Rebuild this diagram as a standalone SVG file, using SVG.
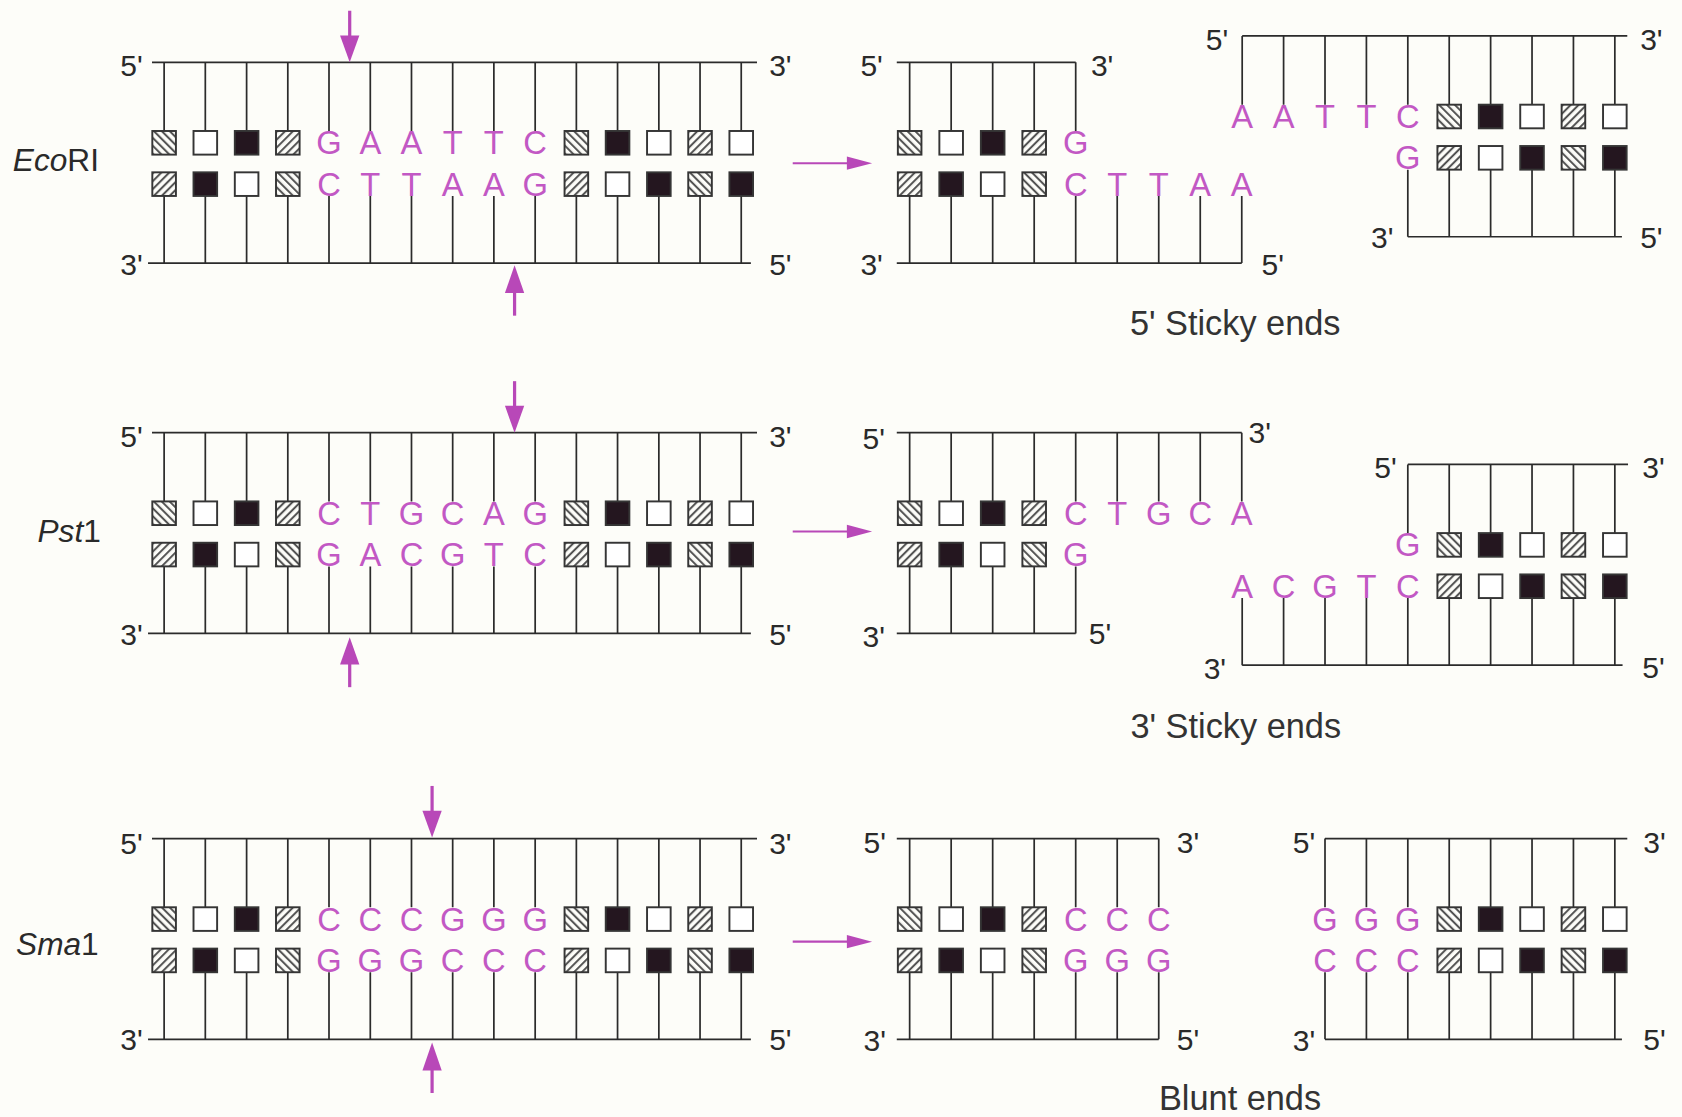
<svg xmlns="http://www.w3.org/2000/svg" width="1682" height="1117" viewBox="0 0 1682 1117">
<style>
.ln{fill:none;stroke:#2b2b2b;stroke-width:1.6}
.bx{stroke:#353535;stroke-width:1.8}
.seq{font-family:"Liberation Sans",Arial,sans-serif;font-size:30.5px;fill:#c258c4;text-anchor:middle}
.lab{font-family:"Liberation Sans",Arial,sans-serif;font-size:28px;fill:#2a2a2a}
.end{text-anchor:end}
.cap{font-family:"Liberation Sans",Arial,sans-serif;font-size:32px;fill:#333;text-anchor:middle}
.enz{font-family:"Liberation Sans",Arial,sans-serif;font-size:29.5px;fill:#2a2a2a}
.it{font-style:italic}
.arr{fill:#b848b8;stroke:none}
.sh{stroke:#b848b8;stroke-width:3}
.shh{stroke:#b848b8;stroke-width:2}
</style>
<defs>
<pattern id="pb" width="5.2" height="5.2" patternUnits="userSpaceOnUse" patternTransform="rotate(-45)"><line x1="1" y1="0" x2="1" y2="5.2" stroke="#4a4a4a" stroke-width="1.8"/></pattern>
<pattern id="pf" width="5.2" height="5.2" patternUnits="userSpaceOnUse" patternTransform="rotate(45)"><line x1="1" y1="0" x2="1" y2="5.2" stroke="#4a4a4a" stroke-width="1.8"/></pattern>
<rect id="wb" class="bx" x="-11" y="-11" width="22" height="22" fill="#fff"/>
<rect id="kb" class="bx" x="-11" y="-11" width="22" height="22" fill="#24161f"/>
<rect id="bs" class="bx" x="-11" y="-11" width="22" height="22" fill="url(#pb)"/>
<rect id="fs" class="bx" x="-11" y="-11" width="22" height="22" fill="url(#pf)"/>
</defs>
<rect width="1682" height="1117" fill="#fdfdf9"/>
<g transform="scale(1.0727,1.0737)">

<!-- ===== Row 1: EcoRI ===== -->
<g id="ecori-full">
<path class="ln" d="M141.7 58H705.7M138 245H700"/>
<path class="ln" d="M153 58V122M191.4 58V122M229.9 58V122M268.3 58V122M306.7 58V122M345.2 58V122M383.6 58V122M422 58V122M460.4 58V122M498.9 58V122M537.3 58V122M575.7 58V122M614.2 58V122M652.6 58V122M691 58V122"/>
<path class="ln" d="M153 182.5V245M191.4 182.5V245M229.9 182.5V245M268.3 182.5V245M306.7 182.5V245M345.2 182.5V245M383.6 182.5V245M422 182.5V245M460.4 182.5V245M498.9 182.5V245M537.3 182.5V245M575.7 182.5V245M614.2 182.5V245M652.6 182.5V245M691 182.5V245"/>
<use href="#bs" x="153" y="133"/><use href="#wb" x="191.4" y="133"/><use href="#kb" x="229.9" y="133"/><use href="#fs" x="268.3" y="133"/>
<use href="#bs" x="537.3" y="133"/><use href="#kb" x="575.7" y="133"/><use href="#wb" x="614.2" y="133"/><use href="#fs" x="652.6" y="133"/><use href="#wb" x="691" y="133"/>
<use href="#fs" x="153" y="171.5"/><use href="#kb" x="191.4" y="171.5"/><use href="#wb" x="229.9" y="171.5"/><use href="#bs" x="268.3" y="171.5"/>
<use href="#fs" x="537.3" y="171.5"/><use href="#wb" x="575.7" y="171.5"/><use href="#kb" x="614.2" y="171.5"/><use href="#bs" x="652.6" y="171.5"/><use href="#kb" x="691" y="171.5"/>
<text class="seq" x="306.7 345.2 383.6 422 460.4 498.9" y="143.7">GAATTC</text>
<text class="seq" x="306.7 345.2 383.6 422 460.4 498.9" y="182.2">CTTAAG</text>
<text class="lab end" x="133" y="71">5'</text><text class="lab" x="717" y="71">3'</text>
<text class="lab end" x="133" y="256">3'</text><text class="lab" x="717" y="256">5'</text>
<text class="enz" x="12" y="159"><tspan class="it">Eco</tspan>RI</text>
</g>

<g id="ecori-left">
<path class="ln" d="M836 58H1002.8M836 245H1157.6"/>
<path class="ln" d="M848 58V122M886.7 58V122M925.4 58V122M964.1 58V122M1002.8 58V122"/>
<path class="ln" d="M848 182.5V245M886.7 182.5V245M925.4 182.5V245M964.1 182.5V245M1002.8 182.5V245M1041.5 182.5V245M1080.2 182.5V245M1118.9 182.5V245M1157.6 182.5V245"/>
<use href="#bs" x="848" y="133"/><use href="#wb" x="886.7" y="133"/><use href="#kb" x="925.4" y="133"/><use href="#fs" x="964.1" y="133"/>
<use href="#fs" x="848" y="171.5"/><use href="#kb" x="886.7" y="171.5"/><use href="#wb" x="925.4" y="171.5"/><use href="#bs" x="964.1" y="171.5"/>
<text class="seq" x="1002.8" y="143.7">G</text>
<text class="seq" x="1002.8 1041.5 1080.2 1118.9 1157.6" y="182.2">CTTAA</text>
<text class="lab end" x="823" y="71">5'</text><text class="lab" x="1017" y="71">3'</text>
<text class="lab end" x="823" y="256">3'</text><text class="lab" x="1176" y="256">5'</text>
</g>

<g id="ecori-right">
<path class="ln" d="M1158 33.5H1517M1312.4 220.5H1512"/>
<path class="ln" d="M1158 33.5V97.5M1196.6 33.5V97.5M1235.2 33.5V97.5M1273.8 33.5V97.5M1312.4 33.5V97.5M1351 33.5V97.5M1389.6 33.5V97.5M1428.2 33.5V97.5M1466.8 33.5V97.5M1505.4 33.5V97.5"/>
<path class="ln" d="M1312.4 158V220.5M1351 158V220.5M1389.6 158V220.5M1428.2 158V220.5M1466.8 158V220.5M1505.4 158V220.5"/>
<use href="#bs" x="1351" y="108.5"/><use href="#kb" x="1389.6" y="108.5"/><use href="#wb" x="1428.2" y="108.5"/><use href="#fs" x="1466.8" y="108.5"/><use href="#wb" x="1505.4" y="108.5"/>
<use href="#fs" x="1351" y="147"/><use href="#wb" x="1389.6" y="147"/><use href="#kb" x="1428.2" y="147"/><use href="#bs" x="1466.8" y="147"/><use href="#kb" x="1505.4" y="147"/>
<text class="seq" x="1158 1196.6 1235.2 1273.8 1312.4" y="119.2">AATTC</text>
<text class="seq" x="1312.4" y="157.7">G</text>
<text class="lab end" x="1145" y="47">5'</text><text class="lab" x="1529" y="47">3'</text>
<text class="lab end" x="1299" y="231">3'</text><text class="lab" x="1529" y="231">5'</text>
</g>
<text id="cap1" class="cap" x="1151.5" y="312">5' Sticky ends</text>

<!-- ===== Row 2: Pst1 ===== -->
<g id="pst-full">
<path class="ln" d="M141.7 403H705.7M138 590H700"/>
<path class="ln" d="M153 403V467M191.4 403V467M229.9 403V467M268.3 403V467M306.7 403V467M345.2 403V467M383.6 403V467M422 403V467M460.4 403V467M498.9 403V467M537.3 403V467M575.7 403V467M614.2 403V467M652.6 403V467M691 403V467"/>
<path class="ln" d="M153 527.5V590M191.4 527.5V590M229.9 527.5V590M268.3 527.5V590M306.7 527.5V590M345.2 527.5V590M383.6 527.5V590M422 527.5V590M460.4 527.5V590M498.9 527.5V590M537.3 527.5V590M575.7 527.5V590M614.2 527.5V590M652.6 527.5V590M691 527.5V590"/>
<use href="#bs" x="153" y="478"/><use href="#wb" x="191.4" y="478"/><use href="#kb" x="229.9" y="478"/><use href="#fs" x="268.3" y="478"/>
<use href="#bs" x="537.3" y="478"/><use href="#kb" x="575.7" y="478"/><use href="#wb" x="614.2" y="478"/><use href="#fs" x="652.6" y="478"/><use href="#wb" x="691" y="478"/>
<use href="#fs" x="153" y="516.5"/><use href="#kb" x="191.4" y="516.5"/><use href="#wb" x="229.9" y="516.5"/><use href="#bs" x="268.3" y="516.5"/>
<use href="#fs" x="537.3" y="516.5"/><use href="#wb" x="575.7" y="516.5"/><use href="#kb" x="614.2" y="516.5"/><use href="#bs" x="652.6" y="516.5"/><use href="#kb" x="691" y="516.5"/>
<text class="seq" x="306.7 345.2 383.6 422 460.4 498.9" y="488.7">CTGCAG</text>
<text class="seq" x="306.7 345.2 383.6 422 460.4 498.9" y="527.2">GACGTC</text>
<text class="lab end" x="133" y="416">5'</text><text class="lab" x="717" y="416">3'</text>
<text class="lab end" x="133" y="601">3'</text><text class="lab" x="717" y="601">5'</text>
<text class="enz" x="35" y="505"><tspan class="it">Pst</tspan>1</text>
</g>

<g id="pst-left">
<path class="ln" d="M836 403H1157.6M836 590H1002.8"/>
<path class="ln" d="M848 403V467M886.7 403V467M925.4 403V467M964.1 403V467M1002.8 403V467M1041.5 403V467M1080.2 403V467M1118.9 403V467M1157.6 403V467"/>
<path class="ln" d="M848 527.5V590M886.7 527.5V590M925.4 527.5V590M964.1 527.5V590M1002.8 527.5V590"/>
<use href="#bs" x="848" y="478"/><use href="#wb" x="886.7" y="478"/><use href="#kb" x="925.4" y="478"/><use href="#fs" x="964.1" y="478"/>
<use href="#fs" x="848" y="516.5"/><use href="#kb" x="886.7" y="516.5"/><use href="#wb" x="925.4" y="516.5"/><use href="#bs" x="964.1" y="516.5"/>
<text class="seq" x="1002.8 1041.5 1080.2 1118.9 1157.6" y="488.7">CTGCA</text>
<text class="seq" x="1002.8" y="527.2">G</text>
<text class="lab end" x="825" y="418">5'</text><text class="lab" x="1164" y="413">3'</text>
<text class="lab end" x="825" y="603">3'</text><text class="lab" x="1015" y="600">5'</text>
</g>

<g id="pst-right">
<path class="ln" d="M1312.4 432.5H1517.7M1158 619.5H1512.6"/>
<path class="ln" d="M1312.4 432.5V496.5M1351 432.5V496.5M1389.6 432.5V496.5M1428.2 432.5V496.5M1466.8 432.5V496.5M1505.4 432.5V496.5"/>
<path class="ln" d="M1158 557V619.5M1196.6 557V619.5M1235.2 557V619.5M1273.8 557V619.5M1312.4 557V619.5M1351 557V619.5M1389.6 557V619.5M1428.2 557V619.5M1466.8 557V619.5M1505.4 557V619.5"/>
<use href="#bs" x="1351" y="507.5"/><use href="#kb" x="1389.6" y="507.5"/><use href="#wb" x="1428.2" y="507.5"/><use href="#fs" x="1466.8" y="507.5"/><use href="#wb" x="1505.4" y="507.5"/>
<use href="#fs" x="1351" y="546"/><use href="#wb" x="1389.6" y="546"/><use href="#kb" x="1428.2" y="546"/><use href="#bs" x="1466.8" y="546"/><use href="#kb" x="1505.4" y="546"/>
<text class="seq" x="1312.4" y="518.2">G</text>
<text class="seq" x="1158 1196.6 1235.2 1273.8 1312.4" y="556.7">ACGTC</text>
<text class="lab end" x="1302" y="445">5'</text><text class="lab" x="1531" y="445">3'</text>
<text class="lab end" x="1143" y="632">3'</text><text class="lab" x="1531" y="631">5'</text>
</g>
<text id="cap2" class="cap" x="1152" y="687">3' Sticky ends</text>

<!-- ===== Row 3: Sma1 ===== -->
<g id="sma-full">
<path class="ln" d="M141.7 781H705.7M138 968H700"/>
<path class="ln" d="M153 781V845M191.4 781V845M229.9 781V845M268.3 781V845M306.7 781V845M345.2 781V845M383.6 781V845M422 781V845M460.4 781V845M498.9 781V845M537.3 781V845M575.7 781V845M614.2 781V845M652.6 781V845M691 781V845"/>
<path class="ln" d="M153 905.5V968M191.4 905.5V968M229.9 905.5V968M268.3 905.5V968M306.7 905.5V968M345.2 905.5V968M383.6 905.5V968M422 905.5V968M460.4 905.5V968M498.9 905.5V968M537.3 905.5V968M575.7 905.5V968M614.2 905.5V968M652.6 905.5V968M691 905.5V968"/>
<use href="#bs" x="153" y="856"/><use href="#wb" x="191.4" y="856"/><use href="#kb" x="229.9" y="856"/><use href="#fs" x="268.3" y="856"/>
<use href="#bs" x="537.3" y="856"/><use href="#kb" x="575.7" y="856"/><use href="#wb" x="614.2" y="856"/><use href="#fs" x="652.6" y="856"/><use href="#wb" x="691" y="856"/>
<use href="#fs" x="153" y="894.5"/><use href="#kb" x="191.4" y="894.5"/><use href="#wb" x="229.9" y="894.5"/><use href="#bs" x="268.3" y="894.5"/>
<use href="#fs" x="537.3" y="894.5"/><use href="#wb" x="575.7" y="894.5"/><use href="#kb" x="614.2" y="894.5"/><use href="#bs" x="652.6" y="894.5"/><use href="#kb" x="691" y="894.5"/>
<text class="seq" x="306.7 345.2 383.6 422 460.4 498.9" y="866.7">CCCGGG</text>
<text class="seq" x="306.7 345.2 383.6 422 460.4 498.9" y="905.2">GGGCCC</text>
<text class="lab end" x="133" y="795">5'</text><text class="lab" x="717" y="795">3'</text>
<text class="lab end" x="133" y="978">3'</text><text class="lab" x="717" y="978">5'</text>
<text class="enz" x="15" y="889"><tspan class="it">Sma</tspan>1</text>
</g>

<g id="sma-left">
<path class="ln" d="M836 781H1080.2M836 968H1080.2"/>
<path class="ln" d="M848 781V845M886.7 781V845M925.4 781V845M964.1 781V845M1002.8 781V845M1041.5 781V845M1080.2 781V845"/>
<path class="ln" d="M848 905.5V968M886.7 905.5V968M925.4 905.5V968M964.1 905.5V968M1002.8 905.5V968M1041.5 905.5V968M1080.2 905.5V968"/>
<use href="#bs" x="848" y="856"/><use href="#wb" x="886.7" y="856"/><use href="#kb" x="925.4" y="856"/><use href="#fs" x="964.1" y="856"/>
<use href="#fs" x="848" y="894.5"/><use href="#kb" x="886.7" y="894.5"/><use href="#wb" x="925.4" y="894.5"/><use href="#bs" x="964.1" y="894.5"/>
<text class="seq" x="1002.8 1041.5 1080.2" y="866.7">CCC</text>
<text class="seq" x="1002.8 1041.5 1080.2" y="905.2">GGG</text>
<text class="lab end" x="826" y="794">5'</text><text class="lab" x="1097" y="794">3'</text>
<text class="lab end" x="826" y="979">3'</text><text class="lab" x="1097" y="978">5'</text>
</g>

<g id="sma-right">
<path class="ln" d="M1235.2 781H1517M1235.2 968H1512"/>
<path class="ln" d="M1235.2 781V845M1273.8 781V845M1312.4 781V845M1351 781V845M1389.6 781V845M1428.2 781V845M1466.8 781V845M1505.4 781V845"/>
<path class="ln" d="M1235.2 905.5V968M1273.8 905.5V968M1312.4 905.5V968M1351 905.5V968M1389.6 905.5V968M1428.2 905.5V968M1466.8 905.5V968M1505.4 905.5V968"/>
<use href="#bs" x="1351" y="856"/><use href="#kb" x="1389.6" y="856"/><use href="#wb" x="1428.2" y="856"/><use href="#fs" x="1466.8" y="856"/><use href="#wb" x="1505.4" y="856"/>
<use href="#fs" x="1351" y="894.5"/><use href="#wb" x="1389.6" y="894.5"/><use href="#kb" x="1428.2" y="894.5"/><use href="#bs" x="1466.8" y="894.5"/><use href="#kb" x="1505.4" y="894.5"/>
<text class="seq" x="1235.2 1273.8 1312.4" y="866.7">GGG</text>
<text class="seq" x="1235.2 1273.8 1312.4" y="905.2">CCC</text>
<text class="lab end" x="1226" y="794">5'</text><text class="lab" x="1532" y="794">3'</text>
<text class="lab end" x="1226" y="979">3'</text><text class="lab" x="1532" y="978">5'</text>
</g>
<text id="cap3" class="cap" x="1156" y="1034">Blunt ends</text>

<!-- ===== Connectors / arrows ===== -->
<g id="connectors">
<line class="sh" x1="326" y1="10" x2="326" y2="36"/><polygon class="arr" points="317,33 335,33 326,58"/>
<line class="sh" x1="479.7" y1="294" x2="479.7" y2="270"/><polygon class="arr" points="470.7,273 488.7,273 479.7,247"/>
<line class="shh" x1="739" y1="152" x2="792" y2="152"/><polygon class="arr" points="789.5,145.8 813,152 789.5,158.2"/>

<line class="sh" x1="479.7" y1="355" x2="479.7" y2="381"/><polygon class="arr" points="470.7,378 488.7,378 479.7,403"/>
<line class="sh" x1="326" y1="640" x2="326" y2="616"/><polygon class="arr" points="317,619 335,619 326,593.5"/>
<line class="shh" x1="739" y1="495" x2="792" y2="495"/><polygon class="arr" points="789.5,488.8 813,495 789.5,501.2"/>

<line class="sh" x1="402.8" y1="732" x2="402.8" y2="758"/><polygon class="arr" points="393.8,755 411.8,755 402.8,780"/>
<line class="sh" x1="402.8" y1="1018" x2="402.8" y2="994"/><polygon class="arr" points="393.8,997 411.8,997 402.8,971"/>
<line class="shh" x1="739" y1="877" x2="792" y2="877"/><polygon class="arr" points="789.5,870.8 813,877 789.5,883.2"/>
</g>
</g>
</svg>
